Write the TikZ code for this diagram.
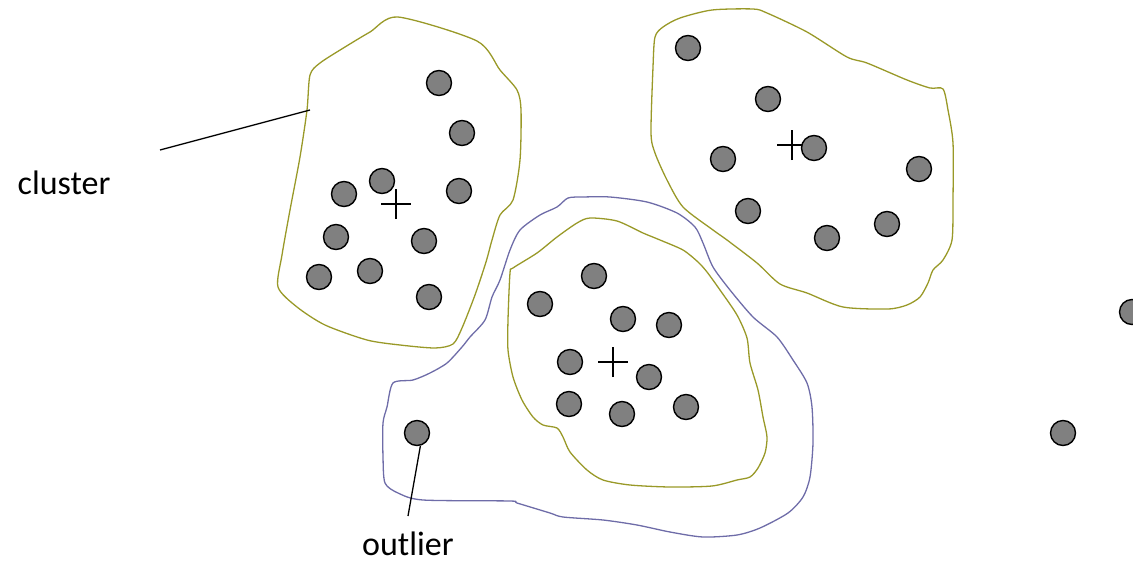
\documentclass[tikz,border=0pt]{standalone}
\usepackage{fontspec}
\setmainfont{Carlito}
\begin{document}
\begin{tikzpicture}[x=1pt,y=-1pt,
  dot/.style={circle,draw=black,fill=black!50,line width=1.4pt,minimum size=25pt,inner sep=0pt},
  olivecurve/.style={draw=clOlive,line width=1.3pt,line join=round},
  purplecurve/.style={draw=clPurple,line width=1.3pt,line join=round},
  crossmark/.style={line width=1.4pt,black},
  leader/.style={line width=1.3pt,black},
  lbl/.style={font=\fontsize{34}{38}\selectfont,inner sep=0pt,text depth=0pt,anchor=base}]
\definecolor{clOlive}{RGB}{153,153,40}
\definecolor{clPurple}{RGB}{110,108,168}
\useasboundingbox (0,0) rectangle (1133,563);
% cluster outlines
\draw[olivecurve] plot[smooth cycle,tension=0.45] coordinates {
 (398,17) (477,41) (500,70) (517,90) (521,110) (520,160) (513,200) (500,215)
 (492,240) (486,262) (475,295) (462,328) (453,344) (435,348) (400,345) (367,340)
 (325,325) (297,307) (278,287) (282,255) (290,210) (300,157) (307,110) (310,75)
 (320,63) (345,47) (370,32)};
\draw[olivecurve] plot[smooth cycle,tension=0.45] coordinates {
 (712,10) (753,9) (767,13) (807,32) (847,57) (867,63) (907,80) (930,88) (943,89)
 (948,110) (953,143) (953,200) (952,240) (943,260) (933,270) (928,283) (920,297)
 (907,305) (888,309) (843,307) (807,293) (780,284) (757,263) (727,240) (713,230)
 (683,207) (667,180) (655,153) (651,133) (653,67) (655,37) (663,27) (680,18)};
\draw[olivecurve] plot[smooth cycle,tension=0.45] coordinates {
 (590,218) (617,221) (643,233) (660,240) (683,250) (698,262) (707,272) (720,290)
 (737,315) (747,338) (750,363) (758,390) (763,417) (767,437) (765,453) (758,468)
 (750,477) (737,480) (712,486) (670,487) (630,485) (603,480) (587,470) (570,452)
 (563,437) (557,428) (543,425) (533,417) (522,400) (513,377) (508,350) (508,320)
 (510,273) (513,268) (537,253) (557,237) (577,223)};
\draw[purplecurve] plot[smooth cycle,tension=0.45] coordinates {
 (568,198) (583,197) (610,197) (647,202) (677,213) (695,227) (703,243) (713,267)
 (730,290) (753,317) (777,337) (793,360) (807,383) (812,407) (813,443) (810,477)
 (803,497) (788,513) (760,528) (737,535) (703,537) (670,532) (637,525) (603,520)
 (563,517) (550,513) (517,503) (510,501) (423,500) (398,493) (385,483) (383,457)
 (383,423) (387,407) (393,383) (413,380) (430,373) (447,363) (462,347) (470,337)
 (485,320) (492,297) (500,280) (510,250) (520,230) (540,215) (557,207)};
% centroid crosses
\foreach \n/\cx/\cy in {ca/396/204, cb/792/145, cc/613/362}{
  \coordinate (\n) at (\cx,\cy);
  \draw[crossmark] ([xshift=-15pt]\n) -- ([xshift=15pt]\n);
  \draw[crossmark] ([yshift=-15pt]\n) -- ([yshift=15pt]\n);
}
% points of cluster 1
\foreach \n/\px/\py in {a1/439/83, a2/462/133, a3/459/191, a4/382/181, a5/344/194,
  a6/336/237, a7/424/241, a8/319/277, a9/370/271, a10/429/297}
  \node[dot] (\n) at (\px,\py) {};
% points of cluster 2
\foreach \n/\px/\py in {b1/688/48, b2/768/99, b3/814/148, b4/723/159, b5/919/169,
  b6/748/211, b7/887/224, b8/827/238}
  \node[dot] (\n) at (\px,\py) {};
% points of cluster 3
\foreach \n/\px/\py in {c1/594/276, c2/540/304, c3/623/319, c4/669/325, c5/570/362,
  c6/649/377, c7/569/404, c8/622/414, c9/686/407}
  \node[dot] (\n) at (\px,\py) {};
% outliers
\node[dot] (out1) at (417,433) {};
\node[dot] (out2) at (1063,433) {};
\node[dot] (out3) at (1132,312) {};
% labels and leaders
\node[lbl] (clusterlbl) at (64,194) {cluster};
\node[lbl] (outlierlbl) at (408,555) {outlier};
\coordinate (clA) at (160,150);
\coordinate (clB) at (310,110);
\draw[leader] (clA) -- (clB);
\coordinate (olA) at (408,516);
\draw[leader] (olA) -- (out1.-75);
\end{tikzpicture}
\end{document}
